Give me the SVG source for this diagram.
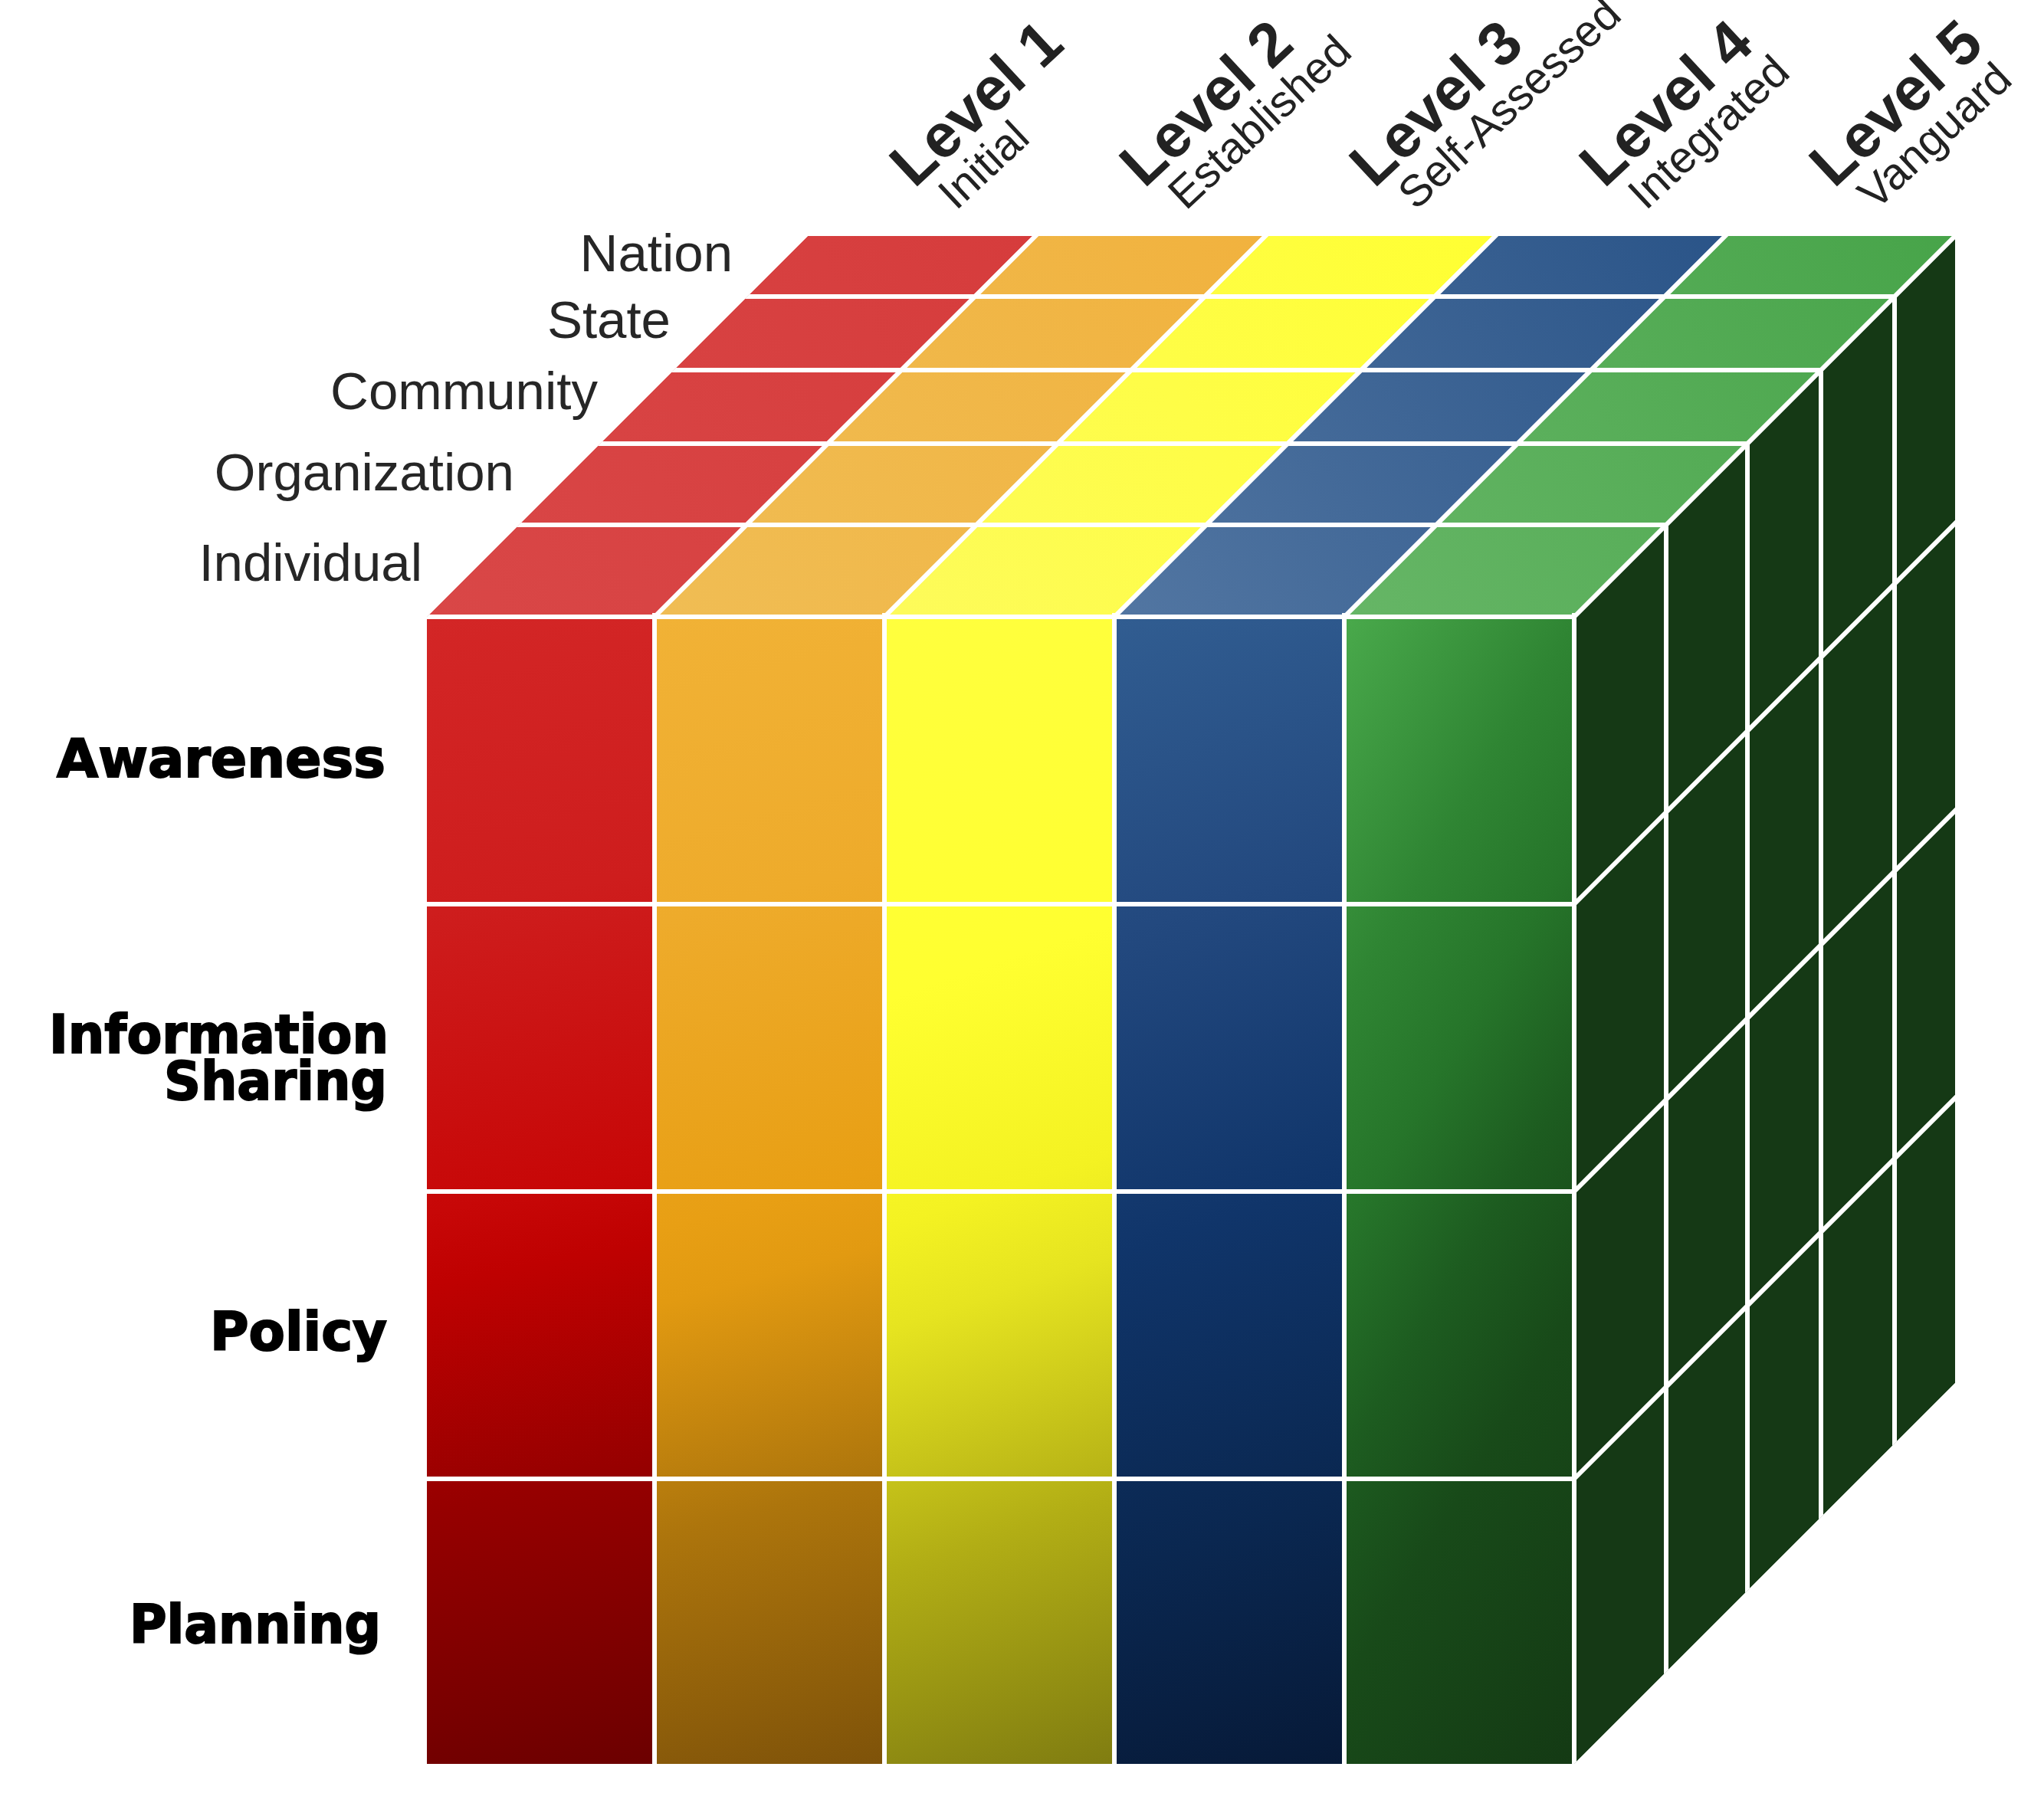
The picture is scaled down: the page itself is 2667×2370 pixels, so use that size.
<svg xmlns="http://www.w3.org/2000/svg" width="2667" height="2370" viewBox="0 0 2667 2370">
<style>
.grid{stroke:#FFFFFF;stroke-width:6;fill:none}
.row{font-family:"DejaVu Sans",sans-serif;font-weight:bold;font-size:70px;fill:#000000;stroke:#000000;stroke-width:2;text-anchor:end}
.scope{font-family:"Liberation Sans",Arial,sans-serif;font-size:69px;fill:#262626;text-anchor:end}
.lvl{font-family:"Liberation Sans",Arial,sans-serif;font-weight:bold;font-size:80px;fill:#222222}
.sub{font-family:"Liberation Sans",Arial,sans-serif;font-size:58px;fill:#222222}
</style>
<defs>
<clipPath id="cube"><polygon points="557,2302 557,805 1054,308 2551,308 2551,1805 2054,2302"/></clipPath>
<linearGradient id="fRed" gradientUnits="userSpaceOnUse" x1="557" y1="805" x2="857" y2="2302">
<stop offset="0" stop-color="#D32626"/><stop offset="0.25" stop-color="#CE1D1D"/><stop offset="0.5" stop-color="#C70707"/><stop offset="0.56" stop-color="#BF0101"/><stop offset="0.75" stop-color="#960000"/><stop offset="1" stop-color="#6C0000"/></linearGradient>
<linearGradient id="fOra" gradientUnits="userSpaceOnUse" x1="854" y1="805" x2="1254" y2="2302">
<stop offset="0" stop-color="#F1B236"/><stop offset="0.25" stop-color="#EEAB2B"/><stop offset="0.5" stop-color="#E89F14"/><stop offset="0.56" stop-color="#E29A11"/><stop offset="0.75" stop-color="#AD750C"/><stop offset="1" stop-color="#7B5009"/></linearGradient>
<linearGradient id="fYel" gradientUnits="userSpaceOnUse" x1="1154" y1="805" x2="1654" y2="2302">
<stop offset="0" stop-color="#FFFF3E"/><stop offset="0.3" stop-color="#FFFF30"/><stop offset="0.48" stop-color="#F4F222"/><stop offset="0.56" stop-color="#E6E420"/><stop offset="0.75" stop-color="#B2AE15"/><stop offset="1" stop-color="#767310"/></linearGradient>
<linearGradient id="fBlu" gradientUnits="userSpaceOnUse" x1="1454" y1="805" x2="1954" y2="2302">
<stop offset="0" stop-color="#315D91"/><stop offset="0.25" stop-color="#23497F"/><stop offset="0.5" stop-color="#10356A"/><stop offset="0.75" stop-color="#0A2750"/><stop offset="1" stop-color="#061733"/></linearGradient>
<linearGradient id="fGrn" gradientUnits="userSpaceOnUse" x1="1757" y1="808" x2="2632" y2="1333">
<stop offset="0" stop-color="#49A94B"/><stop offset="0.25" stop-color="#2F8533"/><stop offset="0.4" stop-color="#26752A"/><stop offset="0.55" stop-color="#1D5C20"/><stop offset="0.7" stop-color="#184A19"/><stop offset="1" stop-color="#143A14"/></linearGradient>
<linearGradient id="tRed" gradientUnits="userSpaceOnUse" x1="557" y1="805" x2="1351" y2="308"><stop offset="0" stop-color="#D94747"/><stop offset="1" stop-color="#D63C3C"/></linearGradient>
<linearGradient id="tOra" gradientUnits="userSpaceOnUse" x1="854" y1="805" x2="1651" y2="308"><stop offset="0" stop-color="#F0BD54"/><stop offset="1" stop-color="#F1B23E"/></linearGradient>
<linearGradient id="tYel" gradientUnits="userSpaceOnUse" x1="1154" y1="805" x2="1951" y2="308"><stop offset="0" stop-color="#FDFB5B"/><stop offset="1" stop-color="#FFFF32"/></linearGradient>
<linearGradient id="tBlu" gradientUnits="userSpaceOnUse" x1="1454" y1="805" x2="2251" y2="308"><stop offset="0" stop-color="#5276A2"/><stop offset="1" stop-color="#2A5488"/></linearGradient>
<linearGradient id="tGrn" gradientUnits="userSpaceOnUse" x1="1754" y1="805" x2="2551" y2="308"><stop offset="0" stop-color="#66B666"/><stop offset="1" stop-color="#47A449"/></linearGradient>
</defs>
<rect width="2667" height="2370" fill="#FFFFFF"/>
<g id="cube-faces" clip-path="url(#cube)">
<g id="front-face">
<rect x="557" y="805" width="297" height="1497" fill="url(#fRed)"/>
<rect x="854" y="805" width="300" height="1497" fill="url(#fOra)"/>
<rect x="1154" y="805" width="300" height="1497" fill="url(#fYel)"/>
<rect x="1454" y="805" width="300" height="1497" fill="url(#fBlu)"/>
<rect x="1754" y="805" width="300" height="1497" fill="url(#fGrn)"/>
</g>
<g id="top-face">
<polygon points="557,805 854,805 1351,308 1054,308" fill="url(#tRed)"/>
<polygon points="854,805 1154,805 1651,308 1351,308" fill="url(#tOra)"/>
<polygon points="1154,805 1454,805 1951,308 1651,308" fill="url(#tYel)"/>
<polygon points="1454,805 1754,805 2251,308 1951,308" fill="url(#tBlu)"/>
<polygon points="1754,805 2054,805 2551,308 2251,308" fill="url(#tGrn)"/>
</g>
<g id="right-face">
<polygon points="2054,805 2551,308 2551,1805 2054,2302" fill="#153915"/>
</g>
</g>
<g id="connectors" class="grid" clip-path="url(#cube)">
<path d="M854,800V2310M1154,800V2310M1454,800V2310M1754,800V2310M2054,800V2310"/>
<path d="M550,805H2054M550,1180H2054M550,1555H2054M550,1930H2054"/>
<path d="M540,685H2174M540,579H2280M540,483H2376M540,387H2472"/>
<path d="M854,805L1354,305M1154,805L1654,305M1454,805L1954,305M1754,805L2254,305M2054,805L2554,305"/>
<path d="M2174,685V2190M2280,579V2080M2376,483V1990M2472,387V1890"/>
<path d="M2054,1180L2554,680M2054,1555L2554,1055M2054,1930L2554,1430"/>
</g>
<g id="scope-labels">
<text id="lbl-nation" class="scope" x="956" y="354">Nation</text>
<text id="lbl-state" class="scope" x="875" y="441">State</text>
<text id="lbl-community" class="scope" x="780" y="534">Community</text>
<text id="lbl-organization" class="scope" x="671" y="640">Organization</text>
<text id="lbl-individual" class="scope" x="551" y="758">Individual</text>
</g>
<g id="row-labels">
<text id="lbl-awareness" class="row" x="503" y="1014" textLength="429" lengthAdjust="spacingAndGlyphs">Awareness</text>
<text id="lbl-info" class="row" x="507" y="1374"><tspan x="507" y="1374" textLength="443" lengthAdjust="spacingAndGlyphs">Information</tspan><tspan x="505" y="1435" textLength="291" lengthAdjust="spacingAndGlyphs">Sharing</tspan></text>
<text id="lbl-policy" class="row" x="505" y="1762" textLength="231" lengthAdjust="spacingAndGlyphs">Policy</text>
<text id="lbl-planning" class="row" x="497" y="2144" textLength="328" lengthAdjust="spacingAndGlyphs">Planning</text>
</g>
<g id="level-1" transform="translate(1193,247) rotate(-43)"><text class="lvl" x="0" y="0">Level 1</text><text class="sub" x="20" y="58">Initial</text></g>
<g id="level-2" transform="translate(1493,247) rotate(-43)"><text class="lvl" x="0" y="0">Level 2</text><text class="sub" x="20" y="58">Established</text></g>
<g id="level-3" transform="translate(1793,247) rotate(-43)"><text class="lvl" x="0" y="0">Level 3</text><text class="sub" x="20" y="58">Self-Assessed</text></g>
<g id="level-4" transform="translate(2093,247) rotate(-43)"><text class="lvl" x="0" y="0">Level 4</text><text class="sub" x="20" y="58">Integrated</text></g>
<g id="level-5" transform="translate(2393,247) rotate(-43)"><text class="lvl" x="0" y="0">Level 5</text><text class="sub" x="20" y="58">Vanguard</text></g>
</svg>
